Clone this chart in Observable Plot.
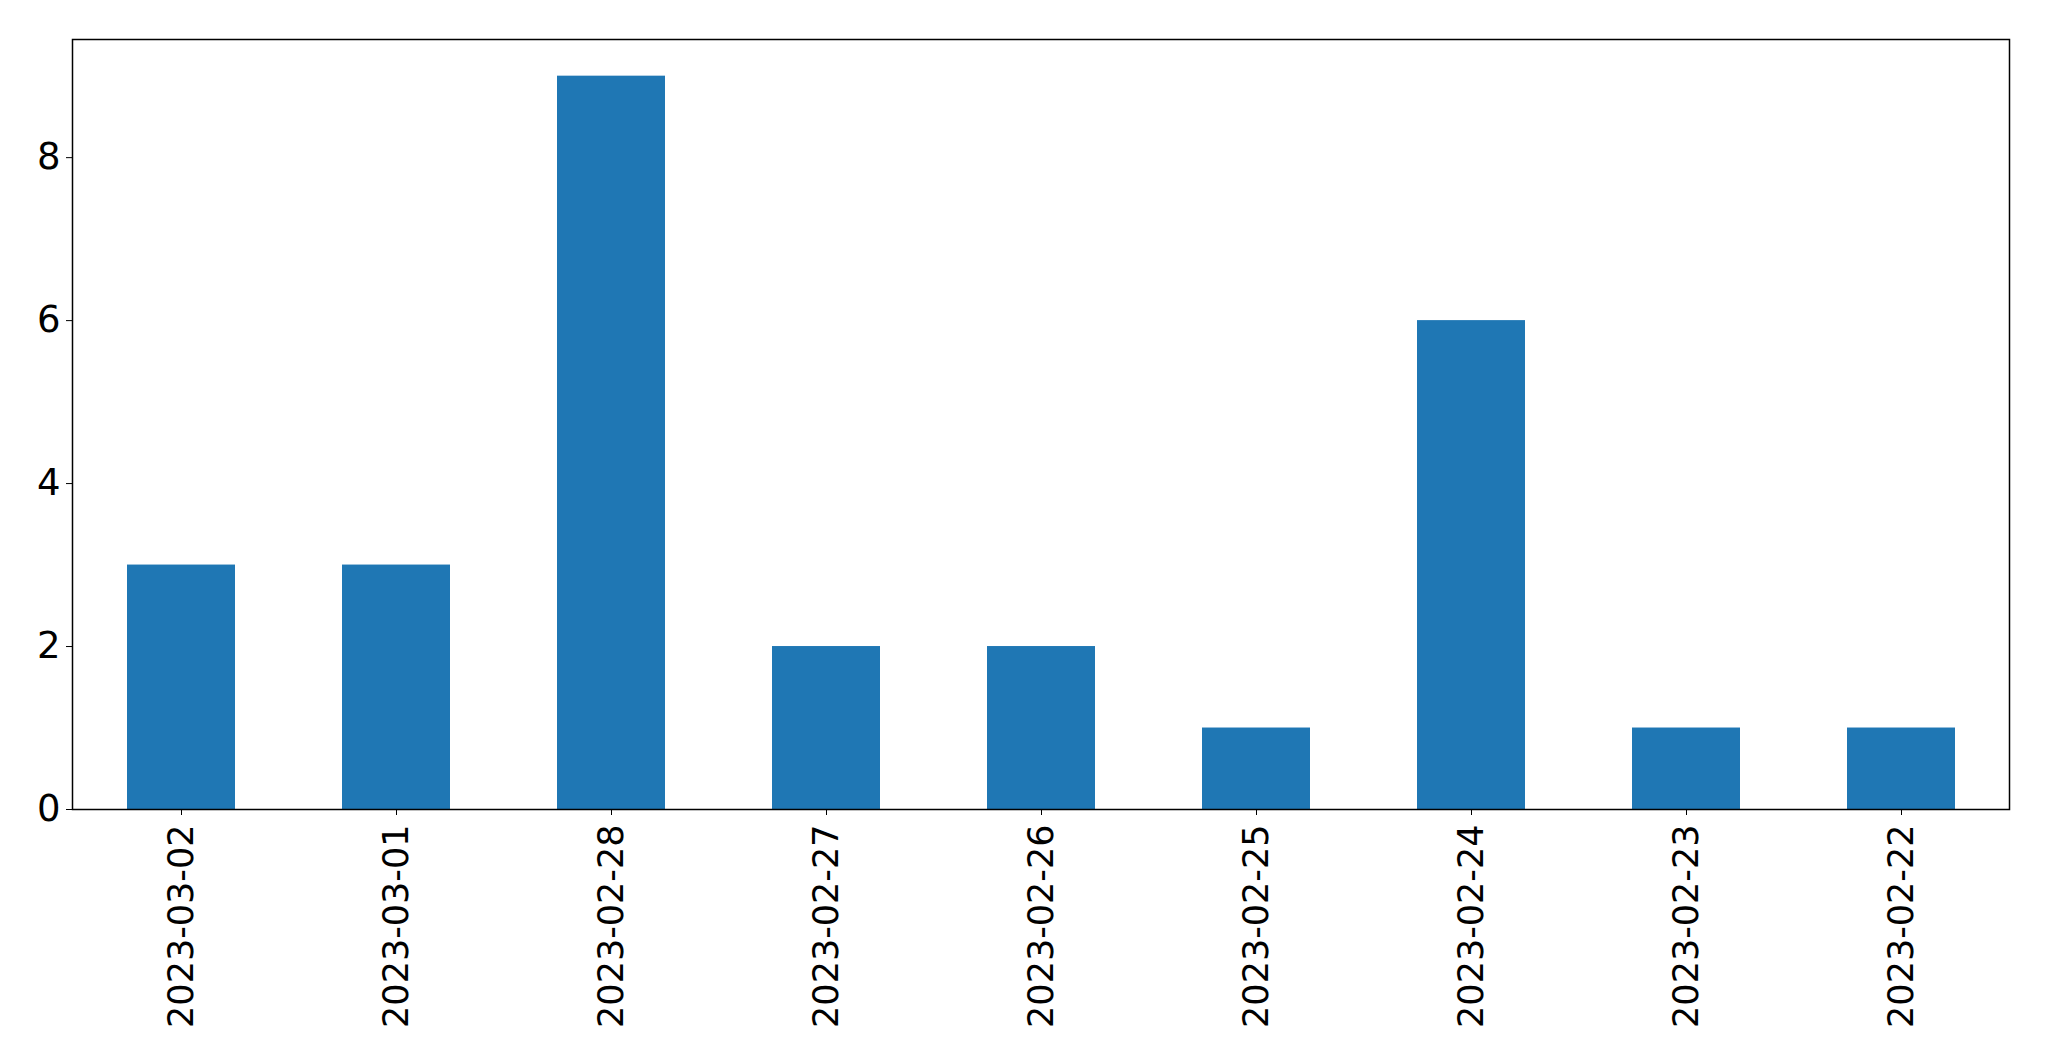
<!DOCTYPE html>
<html>
<head>
<meta charset="utf-8">
<script src="https://cdn.jsdelivr.net/npm/d3@7"></script>
<script src="https://cdn.jsdelivr.net/npm/@observablehq/plot@0.6"></script>
<style>
  html, body { margin: 0; padding: 0; background: #fff; }
</style>
</head>
<body>
<div id="chart"></div>
<script>
const dates = ["2023-03-02", "2023-03-01", "2023-02-28", "2023-02-27", "2023-02-26", "2023-02-25", "2023-02-24", "2023-02-23", "2023-02-22"];
const counts = [3, 3, 9, 2, 2, 1, 6, 1, 1];
const yTicks = [0, 2, 4, 6, 8];

const data = dates.map((d, i) => ({date: d, count: counts[i]}));

const chart = Plot.plot({
  width: 2049,
  height: 1061,
  marginLeft: 72,
  marginRight: 40,
  marginTop: 39,
  marginBottom: 252,
  style: {fontFamily: "'DejaVu Sans', sans-serif", fontSize: "35px", color: "#000", background: "#fff"},
  x: {domain: dates, paddingInner: 0.5, paddingOuter: 0.25, align: 0.5, label: null},
  y: {domain: [0, 9.45], label: null},
  marks: [
    Plot.barY(data, {x: "date", y: "count", fill: "#1f77b4"}),
    Plot.axisY({ticks: yTicks, tickSize: 6, tickPadding: 6, fontSize: 37, label: null, tickFormat: d => String(d)}),
    Plot.axisX({tickSize: 6, tickPadding: 9, tickRotate: -90, fontSize: 35, label: null}),
    Plot.frame({stroke: "#000", strokeWidth: 1.5})
  ]
});
document.getElementById("chart").appendChild(chart);
</script>
</body>
</html>
